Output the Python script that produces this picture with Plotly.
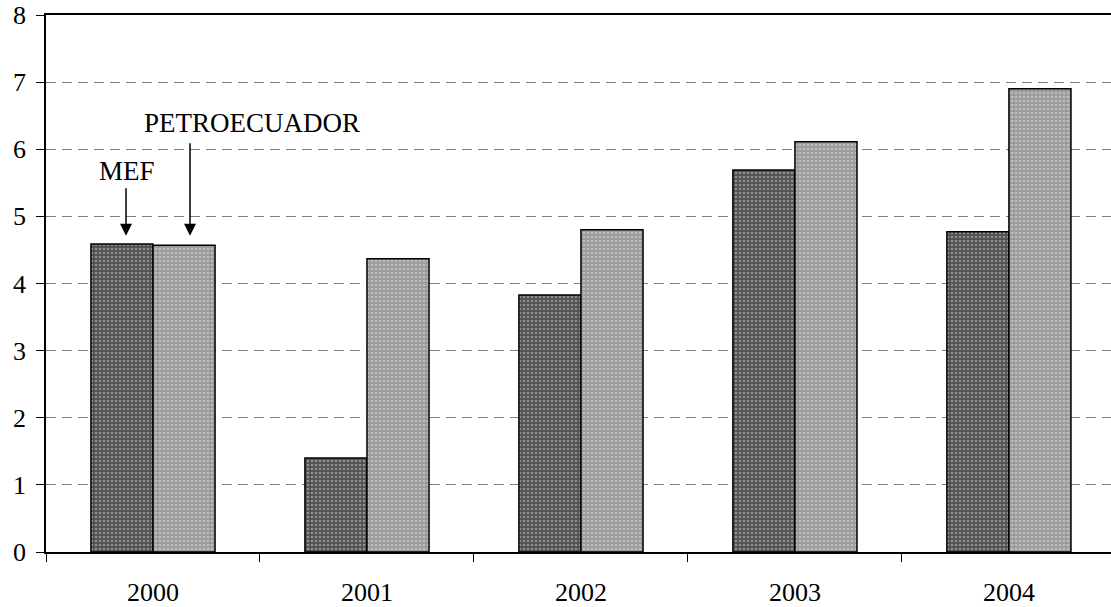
import plotly.graph_objects as go

years = ["2000", "2001", "2002", "2003", "2004"]
mef = [4.59, 1.40, 3.83, 5.69, 4.77]
petro = [4.57, 4.37, 4.80, 6.11, 6.90]
y_ticks = [0, 1, 2, 3, 4, 5, 6, 7, 8]

FONT = "'Liberation Serif', 'Times New Roman', Times, serif"
FS = 26

fig = go.Figure()
fig.add_trace(go.Bar(
    x=years, y=mef, name="MEF",
    marker=dict(color="#505050",
                line=dict(color="black", width=1.5),
                pattern=dict(shape=".", fgcolor="#d0d0d0", bgcolor="#505050",
                             size=4, solidity=0.35)),
))
fig.add_trace(go.Bar(
    x=years, y=petro, name="PETROECUADOR",
    marker=dict(color="#9a9a9a",
                line=dict(color="black", width=1.5),
                pattern=dict(shape=".", fgcolor="#e0e0e0", bgcolor="#9a9a9a",
                             size=4, solidity=0.35)),
))

fig.update_layout(
    width=1111, height=607,
    margin=dict(l=46, r=0, t=15, b=55),
    plot_bgcolor="white", paper_bgcolor="white",
    barmode="group", bargap=0.42, bargroupgap=0,
    showlegend=False,
    font=dict(family=FONT, size=FS, color="black"),
)
fig.update_xaxes(
    type="category", range=[-0.5, 4.477], automargin=False,
    showline=True, linecolor="black", linewidth=1.5, mirror=True,
    ticks="outside", tickson="boundaries", ticklen=8, tickcolor="black",
    tickwidth=1, showgrid=False, ticklabelstandoff=16,
)
fig.update_yaxes(
    range=[0, 8], tickvals=y_ticks, automargin=False,
    showline=True, linecolor="black", linewidth=1.5,
    ticks="outside", ticklen=8, tickcolor="black", tickwidth=1,
    showgrid=True, gridcolor="#808080", gridwidth=1, griddash="10px,6px",
    zeroline=False, ticklabelstandoff=5,
)

fig.add_annotation(x=-0.126, y=4.71, ax=-0.126, ay=5.44, xref="x", yref="y",
                   axref="x", ayref="y", text="", showarrow=True,
                   arrowhead=2, arrowsize=1.6, arrowwidth=1.5, arrowcolor="black")
fig.add_annotation(x=0.173, y=4.71, ax=0.173, ay=6.11, xref="x", yref="y",
                   axref="x", ayref="y", text="", showarrow=True,
                   arrowhead=2, arrowsize=1.6, arrowwidth=1.5, arrowcolor="black")
fig.add_annotation(x=-0.123, y=5.676, xref="x", yref="y", text="MEF",
                   showarrow=False, font=dict(family=FONT, size=27))
fig.add_annotation(x=0.463, y=6.39, xref="x", yref="y", text="PETROECUADOR",
                   showarrow=False, font=dict(family=FONT, size=27))

fig.write_html("out.html", config={"displayModeBar": False},
               post_script="document.body.style.margin='0';document.body.style.overflow='hidden';")
